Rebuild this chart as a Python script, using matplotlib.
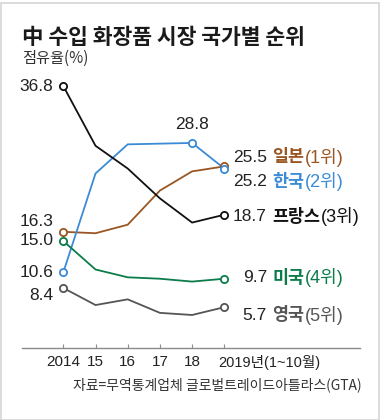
import matplotlib
matplotlib.use("Agg")
import matplotlib.pyplot as plt
from matplotlib.patches import Rectangle
from matplotlib import font_manager as fm

names = {f.name for f in fm.fontManager.ttflist}
NUM = 'Liberation Sans Narrow' if 'Liberation Sans Narrow' in names else 'Liberation Sans'
KR = 'Noto Sans CJK KR'
plt.rcParams['font.family'] = [NUM, KR, 'DejaVu Sans']

# ---- data ----
years = ["2014", "15", "16", "17", "18", "2019년(1~10월)"]
japan  = [16.3, 16.1, 17.3, 22.1, 24.8, 25.5]
korea  = [10.6, 24.5, 28.6, 28.7, 28.8, 25.2]
france = [36.8, 28.4, 25.2, 21.0, 17.6, 18.7]
usa    = [15.0, 11.0, 9.9, 9.7, 9.3, 9.7]
uk     = [8.4, 6.0, 6.8, 4.9, 4.6, 5.7]
countries = ["일본", "한국", "프랑스", "미국", "영국"]
ranks = ["(1위)", "(2위)", "(3위)", "(4위)", "(5위)"]
title = "中 수입 화장품 시장 국가별 순위"
subtitle = "점유율(%)"
source = "자료=무역통계업체 글로벌트레이드아틀라스(GTA)"

series = [japan, korea, france, usa, uk]
colors = ["#9a5622", "#3b8bd6", "#111111", "#0b7c4a", "#555555"]
# label pixel offsets (dy, upward positive) for start / end labels
start_dy = [10, 0, 0, 1, -8]
end_dy = [9, -13, -2, 1, -8]

W, H = 381, 420
fig = plt.figure(figsize=(W/100, H/100), dpi=100)
ax = fig.add_axes([22/W, (H-347.7)/H, 338/W, 39*7.11/H])
ax.set_xlim(-1.283, 9.214)
ax.set_ylim(0, 39)
x = list(range(len(years)))

for s, c in zip(series, colors):
    ax.plot(x, s, color=c, lw=1.3, zorder=3, solid_joinstyle='miter')
    mk_idx = [0, len(s)-1]
    if s is korea:
        mk_idx = [0, 4, len(s)-1]
    ax.plot([x[i] for i in mk_idx], [s[i] for i in mk_idx], 'o', ms=5.2,
            mfc='white', mec=c, mew=1.3, zorder=4, ls='none')

# start labels
txtc = "#222222"
for s, dy in zip(series, start_dy):
    ax.annotate(f"{s[0]:.1f}", (x[0], s[0]), xytext=(-10*0.72, dy*0.72),
                textcoords='offset points', ha='right', va='center',
                fontsize=12.5, color=txtc)
# peak label korea
ax.annotate(f"{korea[4]:.1f}", (x[4], korea[4]), xytext=(0, 13),
            textcoords='offset points', ha='center', va='center',
            fontsize=12.5, color=txtc)

fig.canvas.draw()
r = fig.canvas.get_renderer()
for s, c, dy, nm, rk in zip(series, colors, end_dy, countries, ranks):
    px, py = ax.transData.transform((x[-1], s[-1]))
    ypix = py + dy
    fig.text(267/W, ypix/H, f"{s[-1]:.1f}", ha='right', va='center',
             fontsize=12.5, color=txtc)
    tn = fig.text(272/W, ypix/H, nm, ha='left', va='center', fontsize=12.5,
                  color=c, fontweight='bold', family=[KR])
    fig.canvas.draw()
    bb = tn.get_window_extent(r)
    fig.text((bb.x1 + 1)/W, ypix/H, rk, ha='left', va='center', fontsize=13,
             color=c)

# axis
for sp in ['top', 'right', 'left']:
    ax.spines[sp].set_visible(False)
ax.spines['bottom'].set_color('#8a8a8a')
ax.spines['bottom'].set_linewidth(1.0)
ax.set_yticks([])
ax.set_xticks(x)
ax.set_xticklabels(years[:-1] + [""], fontsize=11, color=txtc)
ax.tick_params(axis='x', direction='in', length=3, width=0.8, color='#8a8a8a', pad=5)
ax.annotate(years[-1], (x[-1], 0), xytext=(-4.5, -10.5), textcoords='offset points',
            ha='left', va='center', fontsize=10.5, color=txtc)
ax.patch.set_alpha(0)

fig.text(22/W, 1 - 37/H, title, ha='left', va='center', fontsize=15.5,
         fontweight='bold', color='#1a1a1a', family=[KR])
fig.text(22/W, 1 - 58/H, subtitle, ha='left', va='center', fontsize=11,
         color='#333333', family=[KR])
fig.text(362/W, 1 - 385/H, source, ha='right', va='center', fontsize=10,
         color='#333333', family=[KR])

fig.add_artist(Rectangle((0.5/W, 0.5/H), (W-3)/W, (H-3)/H, transform=fig.transFigure,
                         fill=False, ec='#d5d5d5', lw=1.2))
fig.savefig("out.png", dpi=100)
